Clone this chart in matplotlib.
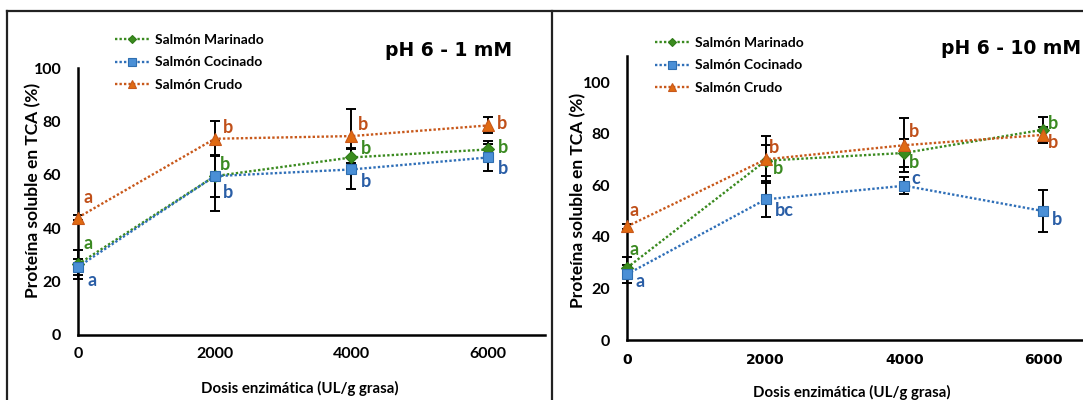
import numpy as np
import matplotlib
matplotlib.use("Agg")
import matplotlib.pyplot as plt
from matplotlib.lines import Line2D

# ---- data ----
dosis = [0, 2000, 4000, 6000]
series = ["Salmón Marinado", "Salmón Cocinado", "Salmón Crudo"]

# pH 6 - 1 mM
mar_1 = [26.5, 59.5, 66.5, 69.5]
coc_1 = [25.5, 59.5, 62.0, 66.5]
cru_1 = [44.0, 73.5, 74.5, 78.5]
mar_1_err = [5.5, 8.0, 3.5, 3.0]
coc_1_err = [3.0, 13.0, 7.5, 5.0]
cru_1_err = [1.0, 6.5, 10.0, 3.0]
mar_1_let = ["a", "b", "b", "b"]
coc_1_let = ["a", "b", "b", "b"]
cru_1_let = ["a", "b", "b", "b"]

# pH 6 - 10 mM
mar_10 = [28.0, 69.5, 72.5, 81.5]
coc_10 = [25.5, 54.5, 59.8, 50.0]
cru_10 = [44.0, 70.0, 75.5, 79.5]
mar_10_err = [4.0, 6.0, 5.5, 5.0]
coc_10_err = [3.5, 7.0, 3.3, 8.0]
cru_10_err = [1.0, 9.0, 10.5, 3.0]
mar_10_let = ["a", "b", "b", "b"]
coc_10_let = ["a", "bc", "c", "b"]
cru_10_let = ["a", "b", "b", "b"]

# letter offsets in pixels (dx, dy) from each point
off_1 = {
    "mar": [(6, 21), (5, 12), (9, 9), (10, 2)],
    "coc": [(10, -14), (8, -16), (9, -12), (10, -11)],
    "cru": [(5, 20), (8, 11), (6, 12), (9, 2)],
}
off_10 = {
    "mar": [(3, 18), (7, -8), (5, -10), (5, 6)],
    "coc": [(9, -7), (9, -11), (7, 7), (9, -8)],
    "cru": [(3, 16), (3, 12), (5, 14), (5, -8)],
}

green, blue, orange = "#3a8a1f", "#2f6fb8", "#c8581a"
txt_green, txt_blue, txt_orange = "#3b8a22", "#2a5ea6", "#c0501a"
styles = {
    "mar": dict(color=green, marker="D", ms=6, mfc="#3b8c1e", mec="#2f7a18"),
    "coc": dict(color=blue, marker="s", ms=7.5, mfc="#4a8fd6", mec="#2f6eb0"),
    "cru": dict(color=orange, marker="^", ms=8.5, mfc="#e06a12", mec="#c8581a"),
}
tcol = {"mar": txt_green, "coc": txt_blue, "cru": txt_orange}

W, H = 1083, 400
fig = plt.figure(figsize=(W / 100, H / 100), dpi=100)
fig.patch.set_facecolor("white")

lato = ["Lato", "DejaVu Sans"]


def fx(px):
    return px / W


def fy(py):
    return 1 - py / H


def panel(rect_px, xmax, ymax, ydata, errs, lets, offs, title, title_px,
          leg_px, ylab_px, xlab_px, yticks, xtickfont):
    x0, y0, x1, y1 = rect_px
    ax = fig.add_axes([fx(x0), fy(y1), fx(x1) - fx(x0), fy(y0) - fy(y1)])
    keys = ["mar", "coc", "cru"]
    handles = []
    for k, name in zip(keys, series):
        st = styles[k]
        ax.errorbar(dosis, ydata[k], yerr=errs[k], fmt="none", ecolor="black",
                    elinewidth=1.4, capsize=3.4, capthick=1.4, zorder=2,
                    clip_on=False)
        ln, = ax.plot(dosis, ydata[k], linestyle=(0, (1, 0.9)), linewidth=1.7,
                      color=st["color"], marker=st["marker"], ms=st["ms"],
                      mfc=st["mfc"], mec=st["mec"], mew=0.8, zorder=3,
                      clip_on=False, label=name)
        handles.append(ln)
        for xv, yv, lt, (dx, dy) in zip(dosis, ydata[k], lets[k], offs[k]):
            ax.annotate(lt, (xv, yv), xytext=(dx, dy),
                        textcoords="offset pixels", ha="left", va="center",
                        fontsize=13, fontweight="bold", color=tcol[k],
                        family=lato, annotation_clip=False)
    ax.set_xlim(0, xmax)
    ax.set_ylim(0, ymax)
    ax.set_xticks(dosis)
    ax.set_yticks(yticks)
    ax.tick_params(length=0, pad=10)
    for lab in ax.get_yticklabels():
        lab.set_fontfamily(lato)
        lab.set_fontweight("bold")
        lab.set_fontsize(11.5)
    for lab in ax.get_xticklabels():
        lab.set_fontfamily(xtickfont[0])
        lab.set_fontweight("bold")
        lab.set_fontsize(xtickfont[1])
    ax.tick_params(axis="y", pad=12)
    ax.tick_params(axis="x", pad=9)
    for s in ["top", "right"]:
        ax.spines[s].set_visible(False)
    for s in ["left", "bottom"]:
        ax.spines[s].set_linewidth(1.8)
        ax.spines[s].set_color("black")
    ax.set_facecolor("none")

    ax.legend(handles=handles, loc="upper left",
              bbox_to_anchor=(fx(leg_px[0]), fy(leg_px[1])),
              bbox_transform=fig.transFigure, frameon=False,
              borderpad=0, borderaxespad=0, handlelength=2.5,
              handletextpad=0.4, labelspacing=0.75, markerscale=0.75,
              prop=dict(family="Lato", weight="bold", size=10))
    fig.text(fx(title_px[0]), fy(title_px[1]), title, ha="right", va="center",
             fontsize=13.5, family="DejaVu Sans", fontweight="semibold")
    fig.text(fx(ylab_px[0]), fy(ylab_px[1]), "Proteína soluble en TCA (%)",
             rotation=90, ha="center", va="center", fontsize=12.5,
             fontweight="bold", family=lato)
    fig.text(fx(xlab_px[0]), fy(xlab_px[1]), "Dosis enzimática (UL/g grasa)",
             ha="center", va="center", fontsize=10.8, fontweight="bold",
             family=lato)
    return ax


panel((78, 68, 545, 335), 6830, 100,
      {"mar": mar_1, "coc": coc_1, "cru": cru_1},
      {"mar": mar_1_err, "coc": coc_1_err, "cru": cru_1_err},
      {"mar": mar_1_let, "coc": coc_1_let, "cru": cru_1_let},
      off_1, "pH 6 - 1 mM", (512, 50), (115, 34), (33, 190), (300, 388),
      [0, 20, 40, 60, 80, 100], ("Lato", 11.5))

panel((627, 56.2, 1083, 340), 6576, 110,
      {"mar": mar_10, "coc": coc_10, "cru": cru_10},
      {"mar": mar_10_err, "coc": coc_10_err, "cru": cru_10_err},
      {"mar": mar_10_let, "coc": coc_10_let, "cru": cru_10_let},
      off_10, "pH 6 - 10 mM", (1081, 48), (655, 37), (578, 200), (852, 392),
      [0, 20, 40, 60, 80, 100], ("DejaVu Sans", 10))

# panel frames
frame_kw = dict(color="#222222", linewidth=1.6, transform=fig.transFigure)
fig.add_artist(Line2D([fx(7), fx(7)], [fy(11), 0], **frame_kw))
fig.add_artist(Line2D([fx(7), 1], [fy(11), fy(11)], **frame_kw))
fig.add_artist(Line2D([fx(552), fx(552)], [fy(11), 0], **frame_kw))

fig.savefig("out.png", dpi=100)
